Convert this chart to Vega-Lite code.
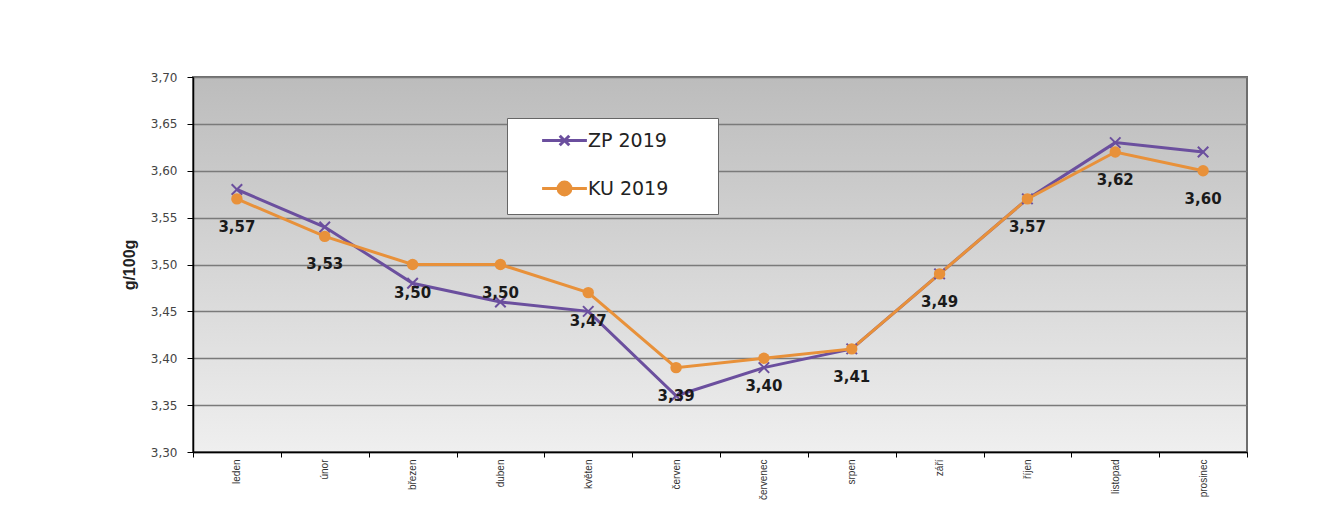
{
  "$schema": "https://vega.github.io/schema/vega-lite/v6.json",
  "autosize": "none",
  "width": 1054,
  "height": 375,
  "padding": {"left": 193, "top": 77, "right": 84, "bottom": 66},
  "background": "white",
  "data": {
    "values": [
      {"series": "ZP 2019", "month": "leden", "value": 3.58},
      {"series": "ZP 2019", "month": "únor", "value": 3.54},
      {"series": "ZP 2019", "month": "březen", "value": 3.48},
      {"series": "ZP 2019", "month": "duben", "value": 3.46},
      {"series": "ZP 2019", "month": "květen", "value": 3.45},
      {"series": "ZP 2019", "month": "červen", "value": 3.36},
      {"series": "ZP 2019", "month": "červenec", "value": 3.39},
      {"series": "ZP 2019", "month": "srpen", "value": 3.41},
      {"series": "ZP 2019", "month": "září", "value": 3.49},
      {"series": "ZP 2019", "month": "říjen", "value": 3.57},
      {"series": "ZP 2019", "month": "listopad", "value": 3.63},
      {"series": "ZP 2019", "month": "prosinec", "value": 3.62},
      {"series": "KU 2019", "month": "leden", "value": 3.57},
      {"series": "KU 2019", "month": "únor", "value": 3.53},
      {"series": "KU 2019", "month": "březen", "value": 3.50},
      {"series": "KU 2019", "month": "duben", "value": 3.50},
      {"series": "KU 2019", "month": "květen", "value": 3.47},
      {"series": "KU 2019", "month": "červen", "value": 3.39},
      {"series": "KU 2019", "month": "červenec", "value": 3.40},
      {"series": "KU 2019", "month": "srpen", "value": 3.41},
      {"series": "KU 2019", "month": "září", "value": 3.49},
      {"series": "KU 2019", "month": "říjen", "value": 3.57},
      {"series": "KU 2019", "month": "listopad", "value": 3.62},
      {"series": "KU 2019", "month": "prosinec", "value": 3.60}
    ]
  },
  "encoding": {
    "x": {
      "field": "month",
      "type": "nominal",
      "sort": ["leden", "únor", "březen", "duben", "květen", "červen", "červenec", "srpen", "září", "říjen", "listopad", "prosinec"],
      "scale": {"type": "band", "paddingInner": 0, "paddingOuter": 0},
      "axis": {
        "title": null,
        "labelAngle": -90,
        "labelFont": "Liberation Sans",
        "labelFontSize": 10,
        "labelColor": "#333333",
        "labelPadding": 2,
        "tickBand": "extent",
        "tickSize": 5,
        "tickColor": "#000000",
        "domainColor": "#000000",
        "domainWidth": 1.5,
        "grid": false
      }
    },
    "y": {
      "field": "value",
      "type": "quantitative",
      "scale": {"domain": [3.30, 3.70], "zero": false, "nice": false},
      "axis": {
        "title": "g/100g",
        "titleFont": "Liberation Sans",
        "titleFontSize": 16,
        "titleFontWeight": "bold",
        "titleColor": "#222222",
        "titlePadding": 13,
        "values": [3.30, 3.35, 3.40, 3.45, 3.50, 3.55, 3.60, 3.65, 3.70],
        "format": ".2f",
        "labelFont": "DejaVu Sans",
        "labelFontSize": 12,
        "labelColor": "#444444",
        "labelPadding": 10,
        "tickSize": 6,
        "tickColor": "#000000",
        "domainColor": "#000000",
        "domainWidth": 1.5,
        "grid": true,
        "gridColor": "#7a7a7a",
        "gridWidth": 1.3
      }
    }
  },
  "layer": [
    {
      "mark": {"type": "line", "strokeWidth": 3},
      "encoding": {
        "color": {
          "field": "series",
          "type": "nominal",
          "scale": {"domain": ["ZP 2019", "KU 2019"], "range": ["#6b4f9e", "#e8913a"]},
          "legend": {
            "title": ".",
            "titleOrient": "right",
            "titleColor": "#ffffff",
            "titleFontSize": 10,
            "titlePadding": 34,
            "orient": "none",
            "legendX": 314,
            "legendY": 41,
            "fillColor": "#ffffff",
            "strokeColor": "#666666",
            "padding": 13,
            "rowPadding": 24,
            "symbolSize": 256,
            "symbolStrokeWidth": 3,
            "symbolOffset": 35,
            "labelOffset": 14,
            "labelFont": "DejaVu Sans",
            "labelFontSize": 19,
            "labelColor": "#222222",
            "encode": {
              "symbols": {
                "update": {
                  "shape": {"signal": "datum.value === 'ZP 2019' ? 'M-2.8,0H2.8M-0.6,-0.6L0.6,0.6M-0.6,0.6L0.6,-0.6' : 'M-2.8,0H2.8M-0.8,0A0.8,0.8,0,1,0,0.8,0A0.8,0.8,0,1,0,-0.8,0Z'"},
                  "fill": {"scale": "color", "field": "value"},
                  "stroke": {"scale": "color", "field": "value"},
                  "strokeWidth": {"value": 3},
                  "opacity": {"value": 1}
                }
              }
            }
          }
        }
      }
    },
    {
      "transform": [{"filter": "datum.series === 'ZP 2019'"}],
      "mark": {"type": "point", "shape": "M-1,-1L1,1M-1,1L1,-1", "filled": false, "size": 110, "strokeWidth": 2, "color": "#6b4f9e", "opacity": 1}
    },
    {
      "transform": [{"filter": "datum.series === 'KU 2019'"}],
      "mark": {"type": "circle", "size": 130, "color": "#e8913a", "opacity": 1}
    },
    {
      "transform": [{"filter": "datum.series === 'KU 2019'"}],
      "mark": {"type": "text", "dy": 28, "font": "DejaVu Sans", "fontSize": 15, "fontWeight": "bold", "color": "#1a1a1a"},
      "encoding": {
        "text": {"field": "value", "type": "quantitative", "format": ".2f"}
      }
    }
  ],
  "config": {
    "locale": {
      "number": {"decimal": ",", "thousands": "\u00a0", "grouping": [3], "currency": ["", " Kč"]}
    },
    "view": {
      "stroke": "#6e6e6e",
      "strokeWidth": 2,
      "fill": {
        "gradient": "linear",
        "x1": 0, "y1": 0, "x2": 0, "y2": 1,
        "stops": [
          {"offset": 0, "color": "#bcbcbc"},
          {"offset": 1, "color": "#efefef"}
        ]
      }
    }
  }
}
